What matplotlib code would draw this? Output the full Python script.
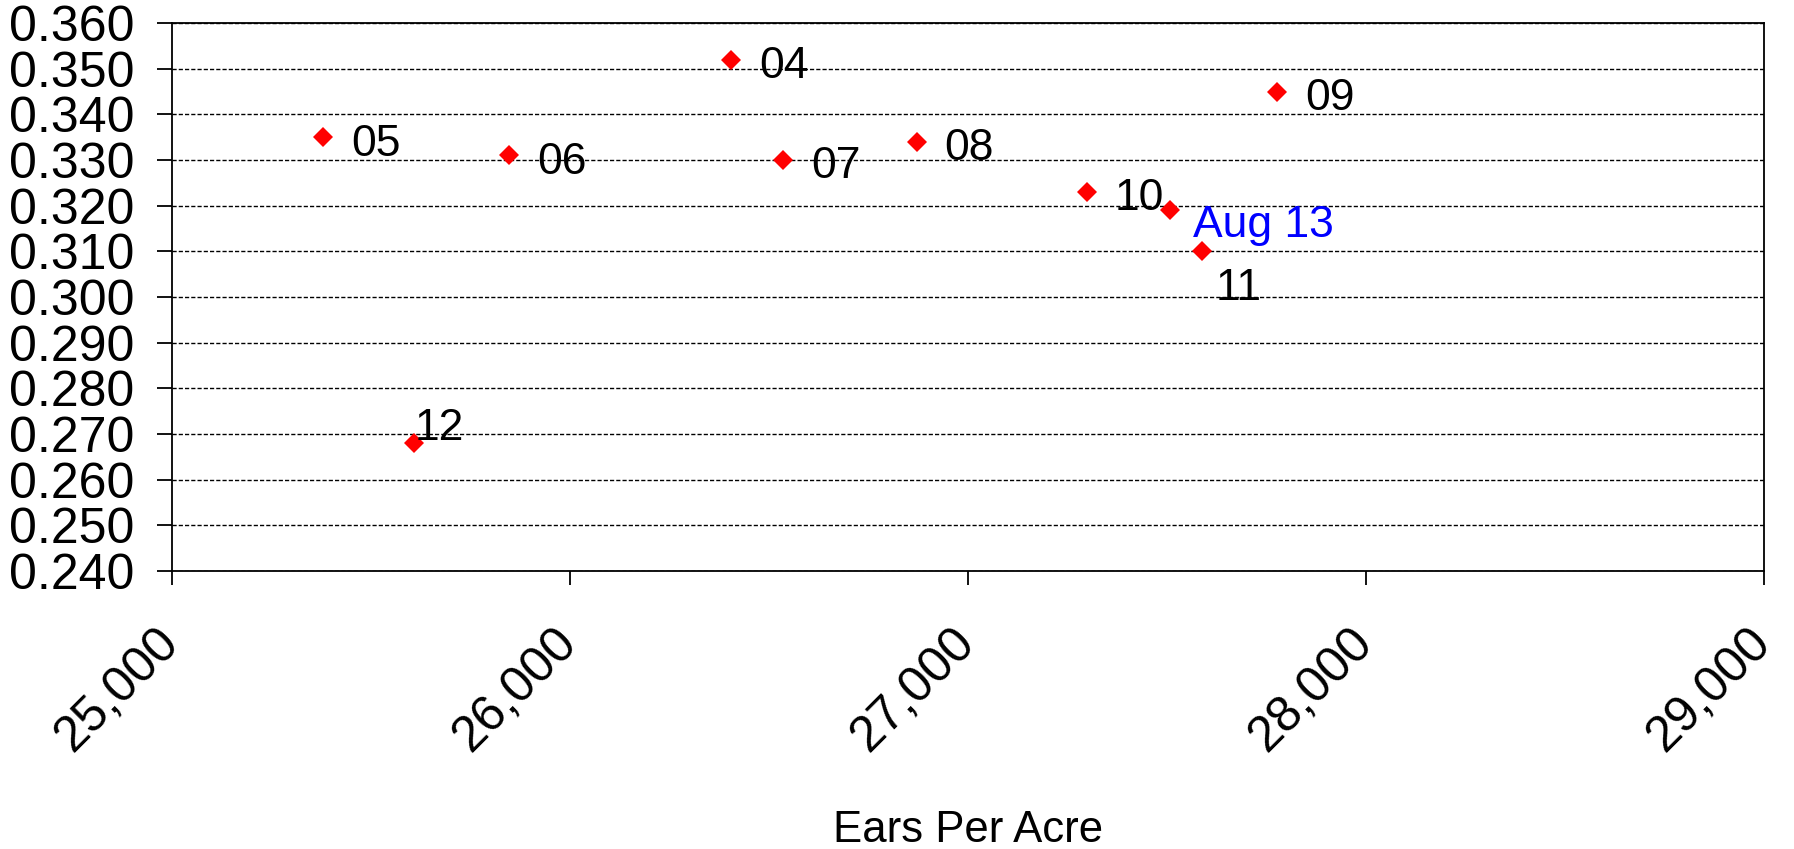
import matplotlib
matplotlib.use('Agg')
from matplotlib import pyplot as plt
from matplotlib.ticker import FuncFormatter

# data
years = ['04', '05', '06', '07', '08', '09', '10', '11', '12', 'Aug 13']
ears = [26404, 25379, 25847, 26536, 26871, 27776, 27298, 27587, 25609, 27508]
ratio = [0.352, 0.335, 0.331, 0.330, 0.334, 0.345, 0.323, 0.310, 0.268, 0.319]

# label offsets in pixels (dx, dy), dy positive = up
offsets = {'11': (14, -37), '12': (0, 15), 'Aug 13': (23, -15)}

plt.rcParams['font.family'] = ['Liberation Sans', 'DejaVu Sans']

fig = plt.figure(figsize=(17.94, 8.49), dpi=100)
ax = fig.add_axes([172 / 1794, 1 - 571 / 849, (1764 - 172) / 1794, (571 - 23) / 849])

ax.plot(ears, ratio, linestyle='none', marker='D', markersize=10.6,
        markeredgewidth=0, color='#FF0000', zorder=3)

for lab, x, y in zip(years, ears, ratio):
    dx, dy = offsets.get(lab, (28, -7))
    col = '#0000FF' if lab == 'Aug 13' else 'black'
    ax.annotate(lab, (x, y), xytext=(dx, dy), textcoords='offset pixels',
                ha='left', va='center', fontsize=32, color=col)

ax.set_xlim(25000, 29000)
ax.set_ylim(0.240, 0.360)
ax.set_xticks([25000, 26000, 27000, 28000, 29000])
ax.set_yticks([0.24 + 0.01 * i for i in range(13)])
ax.xaxis.set_major_formatter(FuncFormatter(lambda v, p: '{:,.0f}'.format(v)))
ax.yaxis.set_major_formatter(FuncFormatter(lambda v, p: '{:.3f}'.format(v)))

ax.yaxis.grid(True, color='black', linestyle=(0, (3, 1.5)), linewidth=1)
ax.set_axisbelow(True)
for s in ax.spines.values():
    s.set_linewidth(1.3)
    s.set_color('black')

ax.tick_params(axis='y', direction='out', length=11, width=1.3, pad=16, labelsize=36)
ax.tick_params(axis='x', direction='out', length=10, width=1.3, pad=37, labelsize=36)
for t in ax.get_xticklabels():
    t.set_rotation(45)
    t.set_rotation_mode('anchor')
    t.set_ha('right')
    t.set_va('center')

ax.set_xlabel('Ears Per Acre', fontsize=31.5)
ax.xaxis.set_label_coords(0.5, (571 - 842) / 548)
ax.xaxis.label.set_va('baseline')

fig.savefig('out.png', dpi=100)
